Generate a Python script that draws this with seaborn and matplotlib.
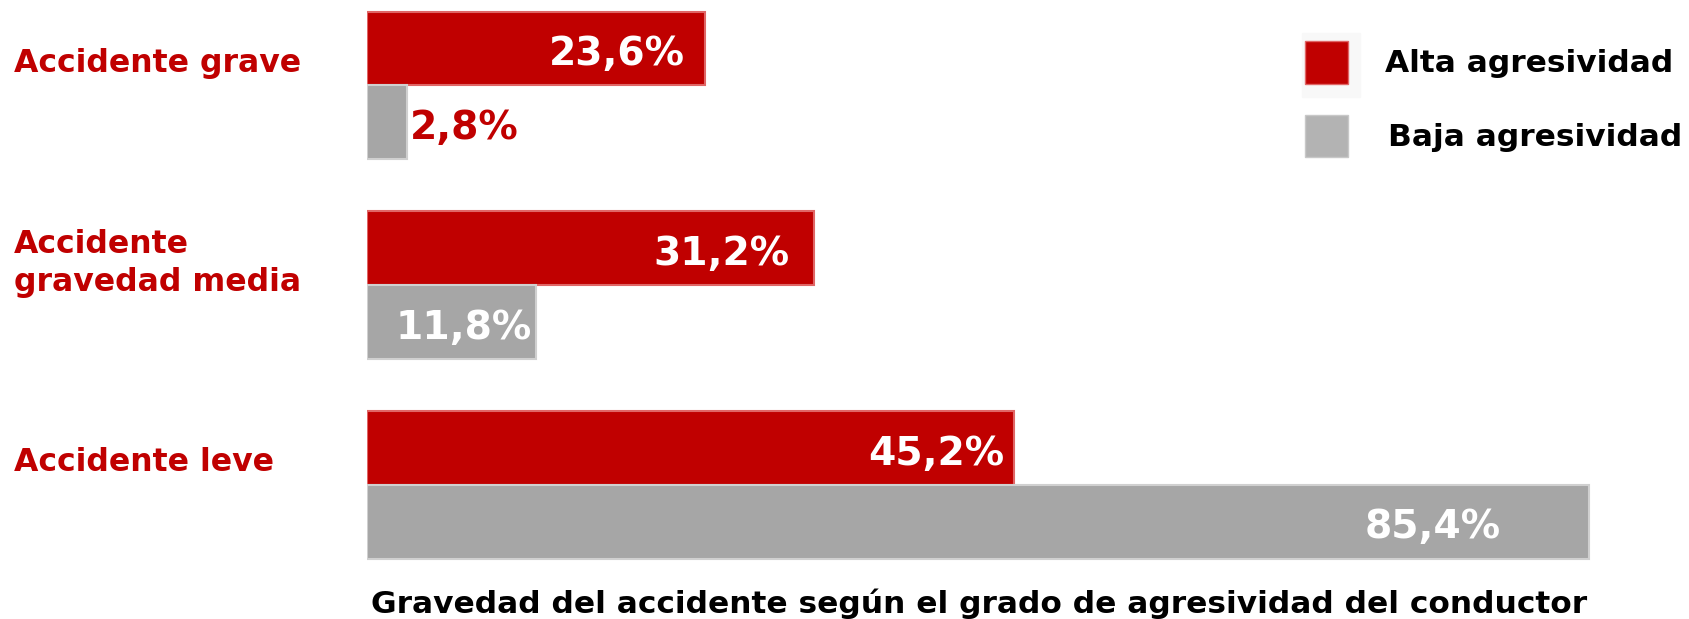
import matplotlib.pyplot as plt
import matplotlib.transforms as mtransforms
from matplotlib.patches import Rectangle
import pandas as pd
import seaborn as sns

# data
categories = ['Accidente grave', 'Accidente\ngravedad media', 'Accidente leve']
groups = ['Alta agresividad', 'Baja agresividad']
alta = [23.6, 31.2, 45.2]
baja = [2.8, 11.8, 85.4]
title = 'Gravedad del accidente según el grado de agresividad del conductor'

RED = '#C00000'
GRAY = '#A6A6A6'


def fmt(v):
    return f'{v:.1f}%'.replace('.', ',')


def plot(df):
    fig = plt.figure(figsize=(16.89, 6.19), dpi=100)
    ax = fig.add_axes([367 / 1689, 39 / 619, 1288 / 1689, 580 / 619])

    sns.barplot(data=df, x='value', y='category', hue='group', orient='h',
                order=categories, hue_order=groups,
                palette={groups[0]: RED, groups[1]: GRAY}, saturation=1,
                width=0.74, legend=False, ax=ax)

    ax.set_xlim(0, 90)
    ax.set_ylim(2.476, -0.428)
    ax.set_axis_off()

    # lighter outline on the bars, as in the original
    for p in ax.patches:
        r = p.get_facecolor()[0]
        p.set_edgecolor('#E06666' if r > 0.7 else '#D0D0D0')
        p.set_linewidth(1.5)

    # value labels: right aligned inside the bar (pad in points), small ones outside
    pads = {(0, 0): 14, (0, 1): -2, (1, 0): 17, (1, 1): 3, (2, 0): 7, (2, 1): 64}
    for gi, vals in enumerate([alta, baja]):
        off = -0.185 if gi == 0 else 0.185
        for ci, v in enumerate(vals):
            pad = pads[(ci, gi)]
            if pad < 0:
                ax.annotate(fmt(v), (v, ci + off), xytext=(-pad, -4),
                            textcoords='offset points', ha='left', va='center',
                            fontsize=28.3, fontweight='bold', color=RED)
            else:
                ax.annotate(fmt(v), (v, ci + off), xytext=(-pad, -4),
                            textcoords='offset points', ha='right', va='center',
                            fontsize=28.3, fontweight='bold', color='white')

    # category labels on the left, left aligned
    trans = mtransforms.blended_transform_factory(fig.transFigure, ax.transData)
    for ci, cat in enumerate(categories):
        ax.text(14 / 1689, ci - 0.11, cat, transform=trans, ha='left', va='center',
                fontsize=22.7, fontweight='bold', color=RED, linespacing=1.3)

    # legend drawn by hand
    fig.patches.append(Rectangle((1302 / 1689, 1 - 97 / 619), 58 / 1689, 64 / 619,
                                 transform=fig.transFigure, color='#F8F8F8', zorder=0))
    fig.patches.append(Rectangle((1305 / 1689, 1 - 84 / 619), 43 / 1689, 43 / 619,
                                 transform=fig.transFigure, facecolor=RED,
                                 edgecolor='#E06666', lw=1))
    fig.patches.append(Rectangle((1305 / 1689, 1 - 157 / 619), 43 / 1689, 42 / 619,
                                 transform=fig.transFigure, facecolor='#B3B3B3',
                                 edgecolor='#C8C8C8', lw=1))
    fig.text(1385 / 1689, 1 - 63 / 619, groups[0], ha='left', va='center',
             fontsize=22.5, fontweight='bold', color='black')
    fig.text(1388 / 1689, 1 - 137 / 619, groups[1], ha='left', va='center',
             fontsize=22.5, fontweight='bold', color='black')

    fig.text(979 / 1689, 1 - 604 / 619, title, ha='center', va='center',
             fontsize=22.5, fontweight='bold', color='black')
    return fig


def main_plots():
    rows = []
    for c, a, b in zip(categories, alta, baja):
        rows.append({'category': c, 'group': groups[0], 'value': a})
        rows.append({'category': c, 'group': groups[1], 'value': b})
    df = pd.DataFrame(rows)
    fig = plot(df)
    fig.savefig('out.png', dpi=100, facecolor='white')


if __name__ == '__main__':
    main_plots()
